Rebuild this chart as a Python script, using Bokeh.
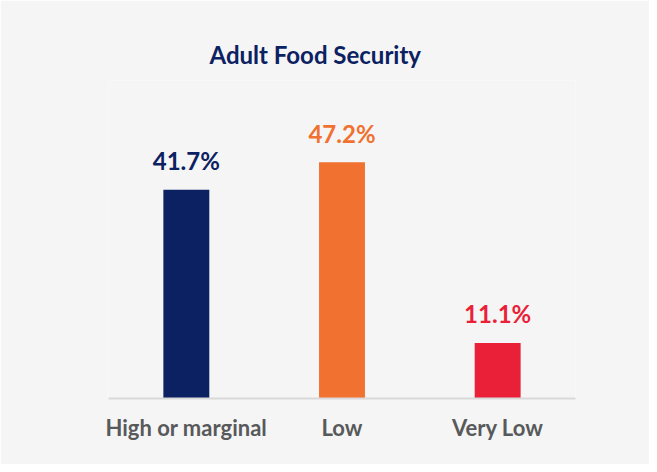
from bokeh.plotting import figure
from bokeh.models import ColumnDataSource, Range1d
from bokeh.core.properties import value
from bokeh.embed import file_html
from bokeh.resources import INLINE

categories = ["High or marginal", "Low", "Very Low"]
values = [41.7, 47.2, 11.1]
labels = ["41.7%", "47.2%", "11.1%"]
colors = ["#0b2161", "#f07130", "#ea1f38"]

source = ColumnDataSource(dict(cat=categories, val=values, lab=labels, col=colors))

BG = "#f5f5f5"
p = figure(x_range=categories, y_range=Range1d(0, 63.5), width=649, height=464,
           output_backend="svg", toolbar_location=None, y_axis_location=None,
           min_border_left=108, min_border_right=74, min_border_top=80, min_border_bottom=66,
           title="Adult Food Security")
p.background_fill_color = BG
p.border_fill_color = BG
p.outline_line_color = None
p.grid.visible = False

p.title.align = "left"
p.title.offset = 101
p.title.standoff = 24
p.title.text_font = "Lato"
p.title.text_font_style = "bold"
p.title.text_font_size = "24px"
p.title.text_color = "#0b2161"

p.vbar(x="cat", top="val", width=0.295, color="col", line_color=None, source=source)
p.text(x="cat", y="val", text="lab", y_offset=-29, text_align="center", text_baseline="alphabetic",
       text_color="col", text_font=value("Lato"), text_font_style="bold", text_font_size="24px",
       source=source)

ax = p.xaxis[0]
ax.axis_line_color = "#d9d9d9"
ax.axis_line_width = 2
ax.major_tick_line_color = None
ax.minor_tick_line_color = None
ax.major_label_standoff = 9
ax.major_label_text_font = "Lato"
ax.major_label_text_font_style = "bold"
ax.major_label_text_font_size = "22px"
ax.major_label_text_color = "#58595b"

open("out.html", "w").write(file_html(p, INLINE))
